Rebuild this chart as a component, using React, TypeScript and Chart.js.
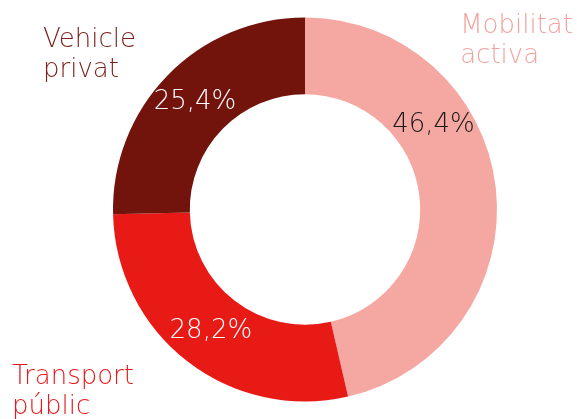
import React, { useEffect, useRef } from "react";
import { Chart, registerables } from "chart.js";

Chart.register(...registerables);

const categories = ["Mobilitat activa", "Transport públic", "Vehicle privat"];
const categoryLines = [["Mobilitat", "activa"], ["Transport", "públic"], ["Vehicle", "privat"]];
const values = [46.4, 28.2, 25.4];
const valueLabels = ["46,4%", "28,2%", "25,4%"];

const colors = ["#F5A7A2", "#E81A16", "#72130C"];
const textColors = ["#F2A29E", "#E8191A", "#7A1F19"];
const valueTextColors = ["#1a1a1a", "#ffffff", "#ffffff"];
// fraction along each arc where its value label sits
const labelArcFraction = [0.34, 0.5, 0.5];
// category label anchor: [x, y of first baseline, align]
const categoryAnchors: [number, number, CanvasTextAlign][] = [
  [573, 33, "right"],
  [12, 384, "left"],
  [43, 47, "left"],
];

const FONT = "'DejaVu Sans', sans-serif";

const labelPlugin = {
  id: "customLabels",
  afterDatasetsDraw(chart: any) {
    const ctx = chart.ctx as CanvasRenderingContext2D;
    const meta = chart.getDatasetMeta(0);
    ctx.save();
    meta.data.forEach((arc: any, i: number) => {
      const p = arc.getProps(["x", "y", "startAngle", "endAngle", "innerRadius", "outerRadius"], true);
      const a = p.startAngle + (p.endAngle - p.startAngle) * labelArcFraction[i];
      const r = (p.innerRadius + p.outerRadius) / 2;
      ctx.font = `200 26px ${FONT}`;
      ctx.fillStyle = valueTextColors[i];
      ctx.textAlign = "center";
      ctx.textBaseline = "middle";
      ctx.fillText(valueLabels[i], p.x + Math.cos(a) * r, p.y + Math.sin(a) * r);
    });
    categoryLines.forEach((lines, i) => {
      const [x, y, align] = categoryAnchors[i];
      ctx.font = `200 26px ${FONT}`;
      ctx.fillStyle = textColors[i];
      ctx.textAlign = align;
      ctx.textBaseline = "alphabetic";
      lines.forEach((ln, j) => {
        const w = ctx.measureText(lines[0]).width;
        const xx = align === "right" ? x - w : x;
        ctx.textAlign = "left";
        ctx.fillText(ln, xx, y + j * 30);
      });
    });
    ctx.restore();
  },
};

export default function App() {
  const ref = useRef<HTMLCanvasElement>(null);
  useEffect(() => {
    if (!ref.current) return;
    const chart = new Chart(ref.current, {
      type: "doughnut",
      data: {
        labels: categories,
        datasets: [
          {
            data: values,
            backgroundColor: colors,
            borderWidth: 0,
            hoverOffset: 0,
          },
        ],
      },
      options: {
        responsive: false,
        animation: false,
        cutout: "60%",
        layout: { padding: { top: 17.5, bottom: 17.5, left: 33, right: 0 } },
        plugins: {
          legend: { display: false },
          tooltip: { enabled: false },
        },
      },
      plugins: [labelPlugin],
    });
    return () => chart.destroy();
  }, []);
  return (
    <div style={{ position: "absolute", left: 0, top: 0, width: 577, height: 419, background: "#fff" }}>
      <canvas ref={ref} width={577} height={419} style={{ display: "block" }} />
    </div>
  );
}
